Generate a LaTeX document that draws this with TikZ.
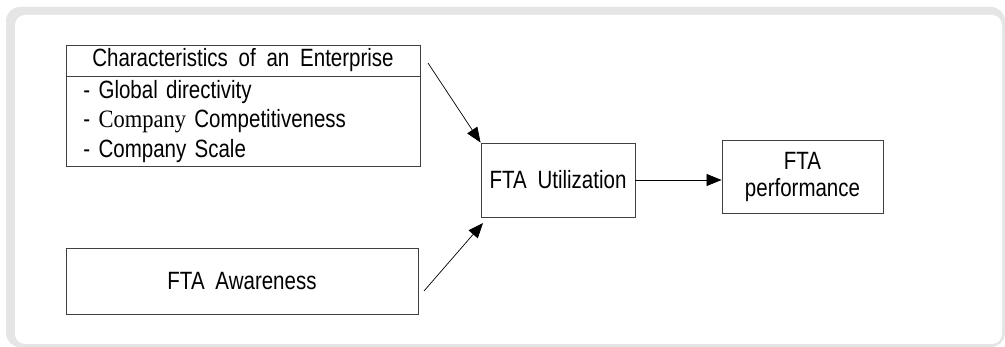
\documentclass[tikz,border=0pt]{standalone}
\usepackage{fontspec}
\setmainfont{Liberation Sans}[FakeStretch=0.82,WordSpace=1.9]
\newfontfamily\romanword{Liberation Serif}[FakeStretch=0.9]
\usetikzlibrary{arrows.meta}

\begin{document}
\begin{tikzpicture}[x=1pt,y=-1pt,
  box/.style={draw=black!75,line width=0.9pt,inner sep=0pt,align=center,font=\fontsize{25}{27}\selectfont},
  link/.style={line width=0.7pt,-{Triangle[length=15pt,width=12pt]}}]
\definecolor{framegray}{HTML}{E5E5E5}
\useasboundingbox (0,0) rectangle (1005,347);
% rounded frame, thick on the top and left side
\fill[framegray,rounded corners=14] (6,7) rectangle (1005,347);
\fill[white,rounded corners=10] (15,15) rectangle (1002,344);

\node [box,minimum width=354,minimum height=31] (head) at (243,60.5) {Characteristics of an Enterprise};
\node [box,anchor=north west,minimum width=354,minimum height=90,text width=320,inner xsep=17,align=left,
  font=\fontsize{25}{29.5}\selectfont] (items) at (66,76)
  {- Global directivity\\- {\romanword Company} Competitiveness\\- Company Scale};
\node [box,minimum width=352,minimum height=66] (aware) at (242,281) {FTA Awareness};
\node [box,minimum width=154,minimum height=74] (util) at (558,180) {FTA Utilization};
\node [box,minimum width=161,minimum height=73] (perf) at (802.5,176.5) {FTA\\performance};

\coordinate (fromhead) at (428,63);
\coordinate (fromaware) at (424,291);
\coordinate (tolow) at (483,223);
  \draw [link] (fromhead) -- (util.north west);
  \draw [link] (fromaware) -- (tolow);
  \draw [link] (util.east) -- (util.east -| perf.west);
\end{tikzpicture}
\end{document}
